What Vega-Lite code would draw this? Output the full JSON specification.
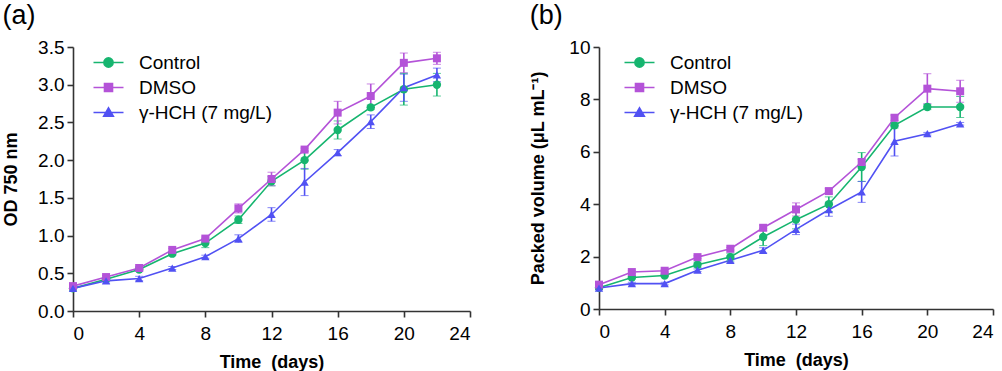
{
  "$schema": "https://vega.github.io/schema/vega-lite/v6.json",
  "background": "white",
  "padding": {"left": 2, "top": 2, "right": 5, "bottom": 5},
  "config": {
    "font": "Liberation Sans",
    "view": {"stroke": null},
    "axis": {
      "grid": false,
      "domainColor": "#333333",
      "domainWidth": 1.6,
      "tickColor": "#333333",
      "tickWidth": 1.6,
      "tickSize": 6,
      "labelFontSize": 19,
      "labelColor": "#000000",
      "labelFont": "Liberation Sans",
      "labelPadding": 3,
      "labelOverlap": false,
      "titleFontSize": 18,
      "titleFontWeight": "bold",
      "titleColor": "#000000",
      "titleFont": "Liberation Sans"
    },
    "axisX": {"labelPadding": 7},
    "title": {"fontSize": 27, "fontWeight": "normal", "font": "Liberation Sans", "anchor": "start", "frame": "bounds", "color": "#000000"},
    "legend": {"labelFontSize": 19, "labelFont": "Liberation Sans", "labelColor": "#000000"}
  },
  "spacing": 58,
  "resolve": {"scale": {"color": "independent"}, "legend": {"color": "independent"}},
  "hconcat": [
    {
      "title": {"text": "(a)", "offset": 8},
      "width": 397,
      "height": 264,
      "data": {"values": [
        {"day": 0, "group": "Control", "v": 0.30, "e": 0.02},
        {"day": 2, "group": "Control", "v": 0.42, "e": 0.02},
        {"day": 4, "group": "Control", "v": 0.55, "e": 0.02},
        {"day": 6, "group": "Control", "v": 0.76, "e": 0.02},
        {"day": 8, "group": "Control", "v": 0.90, "e": 0.06},
        {"day": 10, "group": "Control", "v": 1.21, "e": 0.05},
        {"day": 12, "group": "Control", "v": 1.72, "e": 0.06},
        {"day": 14, "group": "Control", "v": 2.00, "e": 0.12},
        {"day": 16, "group": "Control", "v": 2.40, "e": 0.12},
        {"day": 18, "group": "Control", "v": 2.70, "e": 0.03},
        {"day": 20, "group": "Control", "v": 2.94, "e": 0.21},
        {"day": 22, "group": "Control", "v": 3.00, "e": 0.15},
        {"day": 0, "group": "DMSO", "v": 0.33, "e": 0.02},
        {"day": 2, "group": "DMSO", "v": 0.45, "e": 0.02},
        {"day": 4, "group": "DMSO", "v": 0.57, "e": 0.02},
        {"day": 6, "group": "DMSO", "v": 0.81, "e": 0.02},
        {"day": 8, "group": "DMSO", "v": 0.96, "e": 0.02},
        {"day": 10, "group": "DMSO", "v": 1.36, "e": 0.06},
        {"day": 12, "group": "DMSO", "v": 1.75, "e": 0.09},
        {"day": 14, "group": "DMSO", "v": 2.14, "e": 0.02},
        {"day": 16, "group": "DMSO", "v": 2.63, "e": 0.15},
        {"day": 18, "group": "DMSO", "v": 2.85, "e": 0.16},
        {"day": 20, "group": "DMSO", "v": 3.29, "e": 0.13},
        {"day": 22, "group": "DMSO", "v": 3.35, "e": 0.08},
        {"day": 0, "group": "γ-HCH (7 mg/L)", "v": 0.30, "e": 0.02},
        {"day": 2, "group": "γ-HCH (7 mg/L)", "v": 0.40, "e": 0.03},
        {"day": 4, "group": "γ-HCH (7 mg/L)", "v": 0.43, "e": 0.03},
        {"day": 6, "group": "γ-HCH (7 mg/L)", "v": 0.57, "e": 0.02},
        {"day": 8, "group": "γ-HCH (7 mg/L)", "v": 0.72, "e": 0.02},
        {"day": 10, "group": "γ-HCH (7 mg/L)", "v": 0.96, "e": 0.05},
        {"day": 12, "group": "γ-HCH (7 mg/L)", "v": 1.28, "e": 0.09},
        {"day": 14, "group": "γ-HCH (7 mg/L)", "v": 1.71, "e": 0.18},
        {"day": 16, "group": "γ-HCH (7 mg/L)", "v": 2.10, "e": 0.04},
        {"day": 18, "group": "γ-HCH (7 mg/L)", "v": 2.51, "e": 0.09},
        {"day": 20, "group": "γ-HCH (7 mg/L)", "v": 2.96, "e": 0.18},
        {"day": 22, "group": "γ-HCH (7 mg/L)", "v": 3.13, "e": 0.09}
      ]},
      "encoding": {
        "x": {"field": "day", "type": "quantitative", "scale": {"domain": [0, 24], "nice": false}, "axis": {"values": [0, 4, 8, 12, 16, 20, 24], "title": "Time\u00a0 (days)", "titlePadding": 10}},
        "y": {"field": "v", "type": "quantitative", "scale": {"domain": [0, 3.5], "nice": false}, "axis": {"values": [0, 0.5, 1, 1.5, 2, 2.5, 3, 3.5], "format": ".1f", "title": "OD 750 nm", "titlePadding": 17}},
        "color": {"field": "group", "type": "nominal", "scale": {"domain": ["Control", "DMSO", "γ-HCH (7 mg/L)"], "range": ["#16b56f", "#b453d8", "#5151f3"]}, "legend": {
          "title": null, "orient": "none", "legendX": 26, "legendY": 6, "padding": 0,
          "symbolSize": 64, "labelOffset": 21, "rowPadding": 5,
          "encode": {"symbols": {"update": {
            "shape": {"signal": "datum.value === 'Control' ? 'M-3.75,0H3.75M1.15,0A1.15,1.15 0 1,1 -1.15,0A1.15,1.15 0 1,1 1.15,0Z' : datum.value === 'DMSO' ? 'M-3.75,0H3.75M-1,-1H1V1H-1Z' : 'M-3.75,0H3.75M0,-1.15L1.2,0.9H-1.2Z'"},
            "fill": {"signal": "datum.value === 'Control' ? '#16b56f' : datum.value === 'DMSO' ? '#b453d8' : '#5151f3'"},
            "stroke": {"signal": "datum.value === 'Control' ? '#16b56f' : datum.value === 'DMSO' ? '#b453d8' : '#5151f3'"},
            "strokeWidth": {"value": 1.6},
            "opacity": {"value": 1}
          }}}
        }}
      },
      "layer": [
        {"mark": {"type": "line", "strokeWidth": 1.6}},
        {
          "mark": {"type": "errorbar", "ticks": {"size": 8, "strokeWidth": 1.6}, "rule": {"strokeWidth": 1.6}},
          "encoding": {"yError": {"field": "e"}}
        },
        {"transform": [{"filter": {"field": "group", "equal": "Control"}}], "mark": {"type": "point", "filled": true, "opacity": 1, "size": 70, "shape": "circle"}},
        {"transform": [{"filter": {"field": "group", "equal": "DMSO"}}], "mark": {"type": "point", "filled": true, "opacity": 1, "size": 64, "shape": "square"}},
        {"transform": [{"filter": {"field": "group", "equal": "γ-HCH (7 mg/L)"}}], "mark": {"type": "point", "filled": true, "opacity": 1, "size": 70, "shape": "triangle-up"}}
      ]
    },
    {
      "title": {"text": "(b)", "offset": 8},
      "width": 394,
      "height": 262,
      "data": {"values": [
        {"day": 0, "group": "Control", "v": 0.81, "e": 0.05},
        {"day": 2, "group": "Control", "v": 1.20, "e": 0.05},
        {"day": 4, "group": "Control", "v": 1.28, "e": 0.05},
        {"day": 6, "group": "Control", "v": 1.69, "e": 0.1},
        {"day": 8, "group": "Control", "v": 1.98, "e": 0.15},
        {"day": 10, "group": "Control", "v": 2.75, "e": 0.33},
        {"day": 12, "group": "Control", "v": 3.41, "e": 0.35},
        {"day": 14, "group": "Control", "v": 4.00, "e": 0.28},
        {"day": 16, "group": "Control", "v": 5.42, "e": 0.55},
        {"day": 18, "group": "Control", "v": 7.01, "e": 0.1},
        {"day": 20, "group": "Control", "v": 7.71, "e": 0.1},
        {"day": 22, "group": "Control", "v": 7.71, "e": 0.4},
        {"day": 0, "group": "DMSO", "v": 0.93, "e": 0.05},
        {"day": 2, "group": "DMSO", "v": 1.41, "e": 0.05},
        {"day": 4, "group": "DMSO", "v": 1.46, "e": 0.05},
        {"day": 6, "group": "DMSO", "v": 1.98, "e": 0.05},
        {"day": 8, "group": "DMSO", "v": 2.30, "e": 0.05},
        {"day": 10, "group": "DMSO", "v": 3.10, "e": 0.1},
        {"day": 12, "group": "DMSO", "v": 3.80, "e": 0.25},
        {"day": 14, "group": "DMSO", "v": 4.50, "e": 0.1},
        {"day": 16, "group": "DMSO", "v": 5.61, "e": 0.1},
        {"day": 18, "group": "DMSO", "v": 7.30, "e": 0.1},
        {"day": 20, "group": "DMSO", "v": 8.41, "e": 0.57},
        {"day": 22, "group": "DMSO", "v": 8.31, "e": 0.42},
        {"day": 0, "group": "γ-HCH (7 mg/L)", "v": 0.80, "e": 0.05},
        {"day": 2, "group": "γ-HCH (7 mg/L)", "v": 0.97, "e": 0.05},
        {"day": 4, "group": "γ-HCH (7 mg/L)", "v": 0.97, "e": 0.05},
        {"day": 6, "group": "γ-HCH (7 mg/L)", "v": 1.48, "e": 0.05},
        {"day": 8, "group": "γ-HCH (7 mg/L)", "v": 1.86, "e": 0.1},
        {"day": 10, "group": "γ-HCH (7 mg/L)", "v": 2.24, "e": 0.1},
        {"day": 12, "group": "γ-HCH (7 mg/L)", "v": 3.04, "e": 0.2},
        {"day": 14, "group": "γ-HCH (7 mg/L)", "v": 3.79, "e": 0.25},
        {"day": 16, "group": "γ-HCH (7 mg/L)", "v": 4.47, "e": 0.4},
        {"day": 18, "group": "γ-HCH (7 mg/L)", "v": 6.40, "e": 0.56},
        {"day": 20, "group": "γ-HCH (7 mg/L)", "v": 6.69, "e": 0.05},
        {"day": 22, "group": "γ-HCH (7 mg/L)", "v": 7.07, "e": 0.05}
      ]},
      "encoding": {
        "x": {"field": "day", "type": "quantitative", "scale": {"domain": [0, 24], "nice": false}, "axis": {"values": [0, 4, 8, 12, 16, 20, 24], "title": "Time\u00a0 (days)", "titlePadding": 10}},
        "y": {"field": "v", "type": "quantitative", "scale": {"domain": [0, 10], "nice": false}, "axis": {"values": [0, 2, 4, 6, 8, 10], "title": "Packed volume (μL mL⁻¹)", "titlePadding": 21}},
        "color": {"field": "group", "type": "nominal", "scale": {"domain": ["Control", "DMSO", "γ-HCH (7 mg/L)"], "range": ["#16b56f", "#b453d8", "#5151f3"]}, "legend": {
          "title": null, "orient": "none", "legendX": 31, "legendY": 6, "padding": 0,
          "symbolSize": 64, "labelOffset": 21, "rowPadding": 5,
          "encode": {"symbols": {"update": {
            "shape": {"signal": "datum.value === 'Control' ? 'M-3.75,0H3.75M1.15,0A1.15,1.15 0 1,1 -1.15,0A1.15,1.15 0 1,1 1.15,0Z' : datum.value === 'DMSO' ? 'M-3.75,0H3.75M-1,-1H1V1H-1Z' : 'M-3.75,0H3.75M0,-1.15L1.2,0.9H-1.2Z'"},
            "fill": {"signal": "datum.value === 'Control' ? '#16b56f' : datum.value === 'DMSO' ? '#b453d8' : '#5151f3'"},
            "stroke": {"signal": "datum.value === 'Control' ? '#16b56f' : datum.value === 'DMSO' ? '#b453d8' : '#5151f3'"},
            "strokeWidth": {"value": 1.6},
            "opacity": {"value": 1}
          }}}
        }}
      },
      "layer": [
        {"mark": {"type": "line", "strokeWidth": 1.6}},
        {
          "mark": {"type": "errorbar", "ticks": {"size": 8, "strokeWidth": 1.6}, "rule": {"strokeWidth": 1.6}},
          "encoding": {"yError": {"field": "e"}}
        },
        {"transform": [{"filter": {"field": "group", "equal": "Control"}}], "mark": {"type": "point", "filled": true, "opacity": 1, "size": 70, "shape": "circle"}},
        {"transform": [{"filter": {"field": "group", "equal": "DMSO"}}], "mark": {"type": "point", "filled": true, "opacity": 1, "size": 64, "shape": "square"}},
        {"transform": [{"filter": {"field": "group", "equal": "γ-HCH (7 mg/L)"}}], "mark": {"type": "point", "filled": true, "opacity": 1, "size": 70, "shape": "triangle-up"}}
      ]
    }
  ]
}
